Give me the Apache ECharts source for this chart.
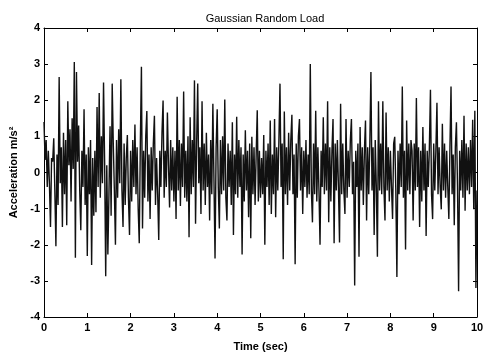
<!DOCTYPE html>
<html>
<head>
<meta charset="utf-8">
<script src="https://cdn.jsdelivr.net/npm/echarts@6/dist/echarts.min.js"></script>
<style>html,body{margin:0;padding:0;background:#fff}#c{width:491px;height:357px}</style>
</head>
<body>
<div id="c"></div>
<script>
const title = "Gaussian Random Load";
const xLabel = "Time (sec)";
const yLabel = "Acceleration m/s\u00B2";
const timeStep = 0.025; // seconds between samples
const accel = [
 1.40, 0.35, 0.90,-0.40,   0.60,-0.30,-1.51, 0.40,   0.30, 0.95,-0.50,-2.04,   0.50,-0.90, 2.64,-0.30,
 0.70,-1.51, 1.10,-0.60,   0.90,-1.46, 1.97, 0.20,   1.20,-0.80, 1.50, 0.10,   3.06,-2.36, 2.78, 0.30,
 1.30,-0.50,-1.60, 0.60,  -0.40, 1.75,-0.90, 0.50,  -2.31, 0.70,-0.60, 0.90,  -2.56, 0.40,-1.20, 0.60,
-1.10, 1.81,-0.40, 2.20,  -0.70, 1.00,-0.30, 2.49,   0.30,-2.87, 0.20,-2.27,  -0.60, 1.28,-1.20, 2.46,
 0.80,-0.50,-2.00, 0.90,  -0.70, 1.20,-0.30, 2.58,  -0.50,-1.51, 0.80,-0.90,   0.40, 1.04,-0.70,-1.73,
 0.60,-0.80, 0.90,-0.40,   1.33,-0.60, 0.70,-1.00,  -1.96, 0.80, 2.93,-1.55,   0.60,-0.70, 1.00, 1.70,
-0.80, 0.50,-1.29, 0.70,  -0.50, 0.80, 1.57,-0.90,   0.40,-0.60,-1.87, 0.60,  -0.40, 1.10, 1.99,-0.70,
 0.60,-0.40, 1.66, 0.20,  -0.97, 0.90,-0.50, 0.70,  -0.80, 0.60,-1.29, 2.10,  -0.50, 0.90,-0.93, 0.80,
-0.40, 2.24,-0.70, 0.60,  -0.80, 1.00,-1.79, 1.53,  -0.60, 0.90,-0.40, 2.55,  -1.42, 0.80, 2.46,-0.30,
 0.70,-1.15, 1.97,-0.50,   0.80,-0.90, 1.10,-0.40,   0.50,-1.33, 0.90,-0.60,   1.90,-0.20,-2.38, 0.70,
 1.75,-0.40,-1.55, 0.90,  -0.60, 1.00,-0.50, 2.02,  -0.70,-1.33, 0.80,-0.40,   0.60,-0.90, 1.39,-1.73,
 0.50,-0.60, 1.54,-0.70,   0.90,-0.40, 0.70,-2.27,   0.50,-0.80, 1.17,-0.50,   0.60,-1.24, 0.80,-1.82,
 0.99,-0.60, 0.70,-0.90,   0.50, 1.72,-0.80, 0.60,  -0.70, 0.40,-0.60, 1.04,  -2.00, 0.60,-0.40, 0.80,
-0.90, 1.44,-1.15, 0.50,  -0.60, 1.48,-1.24, 0.70,  -0.50, 0.90, 2.46,-0.40,   0.80,-2.40, 1.69,-0.60,
 0.70,-0.90, 1.10,-0.50,   0.90, 1.60,-0.60, 0.50,  -2.54, 0.80,-0.70, 1.00,   1.48,-0.50, 0.70,-1.15,
 0.60,-0.40, 0.90,-0.70,   0.50,-0.60, 3.00,-0.50,  -1.38, 0.80,-0.60, 1.71,  -0.80, 0.70,-0.50,-2.00,
 0.60,-0.40, 1.53,-0.60,   0.80,-0.50, 1.97,-1.38,   0.70,-0.80, 0.60, 1.48,  -1.96, 0.80,-0.50, 0.90,
-0.40,-1.94, 1.90,-0.60,   0.80,-0.50,-1.15, 1.48,  -0.70, 0.60,-0.40, 0.90,   1.48,-0.60, 0.30,-3.13,
 0.60,-0.40, 0.80,-2.33,   1.26,-0.50, 0.70,-0.90,   0.60, 1.44,-1.33, 0.70,  -0.60, 0.80, 2.78,-0.50,
 0.70,-1.73, 0.90,-0.40,  -2.33, 1.97,-0.50, 0.80,  -0.60, 1.97,-0.40,-1.33,   1.66,-0.50, 0.70,-0.80,
 0.60,-0.40,-1.29, 0.80,   0.99,-0.50,-2.89, 0.60,  -0.60, 0.80,-0.40, 2.38,  -0.70, 0.60,-2.13, 1.44,
-0.50, 0.80,-0.60, 0.90,   0.60,-1.33, 0.80,-0.50,   2.06,-0.40, 0.70,-1.51,   0.60,-0.80, 1.26,-0.50,
 0.80,-1.76, 0.60,-0.40,   0.70, 2.29,-0.60,-1.29,   0.80,-0.50, 0.60, 1.93,  -0.60, 0.70,-0.40,-1.02,
 1.35,-0.50, 0.80,-0.70,   0.60,-0.40,-1.29, 0.70,   2.38,-0.60, 0.50,-1.46,   0.70, 1.39,-0.40,-3.29,
 0.60,-0.50, 0.90,-0.70,   1.57,-1.06, 0.80,-0.50,   0.70,-0.60, 0.90,-0.40,   1.46,-1.02, 1.71,-3.20,
-0.50
];
const xTicks = [0,1,2,3,4,5,6,7,8,9,10];
const yTicks = [-4,-3,-2,-1,0,1,2,3,4];

const data = accel.map((v, i) => [+(i * timeStep).toFixed(3), v]);
const font = "'Liberation Sans', Arial, sans-serif";
const axisCommon = {
  axisLine: { show: true, onZero: false, lineStyle: { color: '#000', width: 1 } },
  axisTick: { show: true, inside: true, length: 4, lineStyle: { color: '#000' } },
  splitLine: { show: false }
};
const chart = echarts.init(document.getElementById('c'), null, { renderer: 'canvas' });
chart.setOption({
  animation: false,
  backgroundColor: '#fff',
  title: {
    text: title, left: 260, top: 8, textAlign: 'center',
    textStyle: { fontFamily: font, fontSize: 11, fontWeight: 'normal', color: '#000' }
  },
  grid: { left: 44, right: 14, top: 28, bottom: 31, containLabel: false },
  xAxis: [
    Object.assign({
      type: 'value', min: xTicks[0], max: xTicks[xTicks.length - 1], interval: 1,
      name: xLabel, nameLocation: 'middle', nameGap: 24,
      nameTextStyle: { fontFamily: font, fontSize: 11, fontWeight: 'bold', color: '#000' },
      axisLabel: { fontFamily: font, fontSize: 11, fontWeight: 'bold', color: '#000', margin: 5 }
    }, axisCommon),
    Object.assign({
      type: 'value', position: 'top', min: xTicks[0], max: xTicks[xTicks.length - 1], interval: 1,
      axisLabel: { show: false }
    }, axisCommon)
  ],
  yAxis: [
    Object.assign({
      type: 'value', min: yTicks[0], max: yTicks[yTicks.length - 1], interval: 1,
      name: yLabel, nameLocation: 'middle', nameGap: 19, nameRotate: 90,
      nameTextStyle: { fontFamily: font, fontSize: 11, fontWeight: 'bold', color: '#000' },
      axisLabel: { fontFamily: font, fontSize: 11, fontWeight: 'bold', color: '#000', margin: 4 }
    }, axisCommon),
    Object.assign({
      type: 'value', position: 'right', min: yTicks[0], max: yTicks[yTicks.length - 1], interval: 1,
      axisLabel: { show: false }
    }, axisCommon)
  ],
  series: [{
    type: 'line', data: data, showSymbol: false, symbol: 'none',
    lineStyle: { color: '#111', width: 1.4 }, xAxisIndex: 0, yAxisIndex: 0
  }]
});
</script>
</body>
</html>
